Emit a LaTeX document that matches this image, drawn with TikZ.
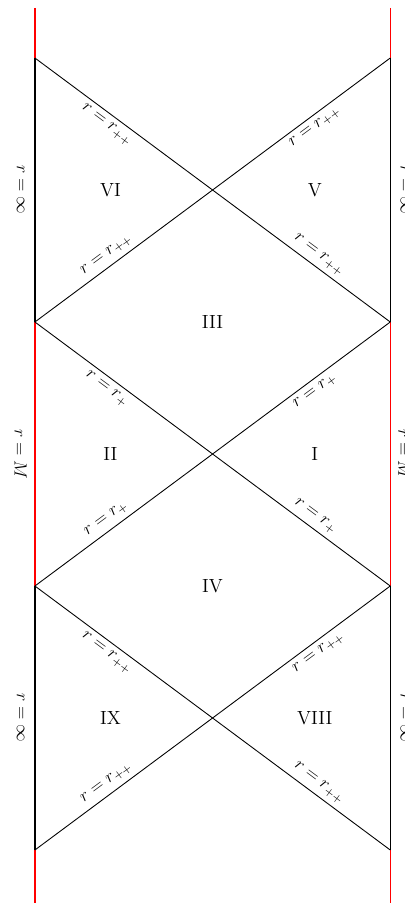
\documentclass[tikz,border=0pt]{standalone}
\usepackage{amsmath,amssymb}
\usepackage{xcolor}
\usepackage{tikz}
\usetikzlibrary{positioning}

\begin{document}
\begin{tikzpicture}[x=2.13cm, y=2.11cm, boundary/.style={line width=1pt}, infinity/.style={line width=1pt, red}, horizon/.style={line width=0.6pt},
    region/.style={font=\fontsize{13}{16}\selectfont}, side/.style={rotate=-90, font=\fontsize{13}{16}\selectfont},
    every node/.append style={font=\fontsize{11.5}{14}\selectfont}]
    \useasboundingbox (-0.393,0.659) rectangle (4.157,-9.625);

    % corners of the diagram
    \coordinate (l0) at (0,0);   \coordinate (r0) at (4,0);
    \coordinate (l1) at (0,-3);  \coordinate (r1) at (4,-3);
    \coordinate (l2) at (0,-6);  \coordinate (r2) at (4,-6);
    \coordinate (l3) at (0,-9);  \coordinate (r3) at (4,-9);
    \coordinate (lt) at (0,0.57);  \coordinate (rt) at (4,0.57);
    \coordinate (lb) at (0,-9.6);  \coordinate (rb) at (4,-9.6);

    % boundaries
    \draw[infinity] (lt) -- (l0);  \draw[infinity] (rt) -- (r0);
    \draw[boundary] (l0) -- (l1);  \draw[boundary] (r0) -- (r1);
    \draw[infinity] (l1) -- (l2);  \draw[infinity] (r1) -- (r2);
    \draw[boundary] (l2) -- (l3);  \draw[boundary] (r2) -- (r3);
    \draw[infinity] (l3) -- (lb);  \draw[infinity] (r3) -- (rb);

    % horizons
    \draw[horizon] (l0) -- node[sloped, below, pos=0.22] {$r=r_{++}$} node[sloped, above, pos=0.78] {$r=r_{++}$} (r1);
    \draw[horizon] (l1) -- node[sloped, above, pos=0.22] {$r=r_{++}$} node[sloped, below, pos=0.77] {$r=r_{++}$} (r0);
    \draw[horizon] (l1) -- node[sloped, below, pos=0.22] {$r=r_{+}$} node[sloped, above, pos=0.77] {$r=r_{+}$} (r2);
    \draw[horizon] (l2) -- node[sloped, above, pos=0.22] {$r=r_{+}$} node[sloped, below, pos=0.77] {$r=r_{+}$} (r1);
    \draw[horizon] (l2) -- node[sloped, below, pos=0.22] {$r=r_{++}$} node[sloped, above, pos=0.78] {$r=r_{++}$} (r3);
    \draw[horizon] (l3) -- node[sloped, above, pos=0.22] {$r=r_{++}$} node[sloped, below, pos=0.78] {$r=r_{++}$} (r2);

    % regions
    \node[region] (VI)   at (0.85,-1.5) {VI};
    \node[region] (V)    at (3.15,-1.5) {V};
    \node[region] (III)  at (2,-3)      {III};
    \node[region] (II)   at (0.85,-4.5) {II};
    \node[region] (I)    at (3.15,-4.5) {I};
    \node[region] (IV)   at (2,-6)      {IV};
    \node[region] (IX)   at (0.85,-7.5) {IX};
    \node[region] (VIII) at (3.15,-7.5) {VIII};

    % boundary labels
    \node[side] (linf1) at (-0.16,-1.5) {$r=\infty$};
    \node[side] (lM)    at (-0.16,-4.5) {$r=M$};
    \node[side] (linf2) at (-0.16,-7.5) {$r=\infty$};
    \node[side] (rinf1) at (4.16,-1.5)  {$r=\infty$};
    \node[side] (rM)    at (4.16,-4.5)  {$r=M$};
    \node[side] (rinf2) at (4.16,-7.5)  {$r=\infty$};
\end{tikzpicture}
\end{document}
